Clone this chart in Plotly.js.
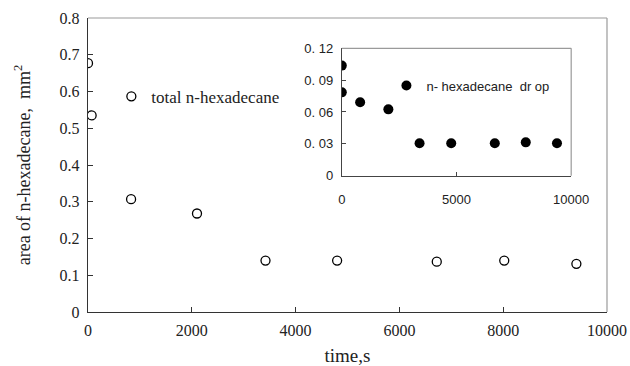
<!DOCTYPE html>
<html>
<head>
<meta charset="utf-8">
<script src="https://cdn.plot.ly/plotly-3.0.1.min.js"></script>
<style>html,body{margin:0;padding:0;background:#fff;}#chart{width:630px;height:366px;}</style>
</head>
<body>
<div id="chart"></div>
<script>
// Main series: total n-hexadecane (open circles)
var totalTime = [0, 70, 830, 2100, 3420, 4800, 6720, 8020, 9410];
var totalArea = [0.677, 0.535, 0.307, 0.268, 0.140, 0.140, 0.137, 0.140, 0.131];
// Inset series: n-hexadecane drop (filled circles)
var dropTime = [0, 0, 800, 2030, 3390, 4770, 6670, 8020, 9380];
var dropArea = [0.1037, 0.0785, 0.0691, 0.0625, 0.0305, 0.0305, 0.0305, 0.0314, 0.0305];
// Tick labels
var mainXTicks = [0, 2000, 4000, 6000, 8000, 10000];
var mainYTicks = [0, 0.1, 0.2, 0.3, 0.4, 0.5, 0.6, 0.7, 0.8];
var mainYText = ['0', '0.1', '0.2', '0.3', '0.4', '0.5', '0.6', '0.7', '0.8'];
var insetXTicks = [0, 5000, 10000];
var insetYTicks = [0, 0.03, 0.06, 0.09, 0.12];
var insetYText = ['0', '0. 03', '0. 06', '0. 09', '0. 12'];

var serif = 'Liberation Serif, Times New Roman, serif';
var sans = 'Liberation Sans, Arial, sans-serif';

var traces = [
  {
    x: totalTime, y: totalArea, type: 'scatter', mode: 'markers',
    name: 'total n-hexadecane', xaxis: 'x', yaxis: 'y', legend: 'legend',
    marker: {symbol: 'circle-open', size: 9, color: '#000', line: {width: 1.3, color: '#000'}}
  },
  {
    x: dropTime, y: dropArea, type: 'scatter', mode: 'markers',
    name: 'n- hexadecane  dr op', xaxis: 'x2', yaxis: 'y2', legend: 'legend2',
    marker: {symbol: 'circle', size: 10, color: '#000'}
  }
];

var frameColor = '#9a9a9a';
var layout = {
  width: 630, height: 366,
  margin: {l: 88, r: 23, t: 18, b: 54},
  paper_bgcolor: '#fff', plot_bgcolor: 'rgba(0,0,0,0)',
  showlegend: true,
  xaxis: {
    domain: [0, 1], range: [0, 10000], tickvals: mainXTicks, ticktext: mainXTicks.map(String),
    showgrid: false, zeroline: false, showline: true, linecolor: '#333', linewidth: 1.2,
    ticks: 'inside', ticklen: 5, tickcolor: '#333', ticklabelstandoff: 4,
    tickfont: {family: serif, size: 16, color: '#222'},
    title: {text: 'time,s', font: {family: serif, size: 19, color: '#222'}, standoff: 10},
    anchor: 'y'
  },
  yaxis: {
    domain: [0, 1], range: [0, 0.8], tickvals: mainYTicks, ticktext: mainYText,
    showgrid: false, zeroline: false, showline: true, linecolor: '#333', linewidth: 1.2,
    ticks: 'inside', ticklen: 5, tickcolor: '#333', ticklabelstandoff: 4,
    tickfont: {family: serif, size: 16, color: '#222'},
    title: {text: 'area of n-hexadecane,  mm<sup>2</sup>', font: {family: serif, size: 18, color: '#222'}, standoff: 24},
    anchor: 'x'
  },
  xaxis2: {
    domain: [0.489, 0.931], range: [0, 10000], tickvals: insetXTicks, ticktext: insetXTicks.map(String),
    showgrid: false, zeroline: false, showline: true, linecolor: '#444', linewidth: 1,
    ticks: 'inside', ticklen: 4, tickcolor: '#444', ticklabelstandoff: 12,
    tickfont: {family: sans, size: 13, color: '#222'},
    anchor: 'y2'
  },
  yaxis2: {
    domain: [0.4636, 0.897], range: [0, 0.12], tickvals: insetYTicks, ticktext: insetYText,
    showgrid: false, zeroline: false, showline: true, linecolor: '#444', linewidth: 1,
    ticks: 'inside', ticklen: 4, tickcolor: '#444', ticklabelstandoff: 5,
    tickfont: {family: sans, size: 13, color: '#222'},
    anchor: 'x2'
  },
  legend: {
    x: 0.045, y: 0.732, xanchor: 'left', yanchor: 'middle',
    bgcolor: 'rgba(0,0,0,0)', borderwidth: 0,
    font: {family: serif, size: 17, color: '#222'}
  },
  legend2: {
    x: 0.575, y: 0.77, xanchor: 'left', yanchor: 'middle',
    bgcolor: '#fff', borderwidth: 0,
    font: {family: sans, size: 13, color: '#222'}
  },
  shapes: [
    {type: 'line', xref: 'x domain', yref: 'y domain', x0: 0, x1: 1, y0: 1, y1: 1, line: {color: frameColor, width: 1.2}},
    {type: 'line', xref: 'x domain', yref: 'y domain', x0: 1, x1: 1, y0: 0, y1: 1, line: {color: frameColor, width: 1.2}},
    {type: 'line', xref: 'x2 domain', yref: 'y2 domain', x0: 0, x1: 1, y0: 1, y1: 1, line: {color: frameColor, width: 1.2}},
    {type: 'line', xref: 'x2 domain', yref: 'y2 domain', x0: 1, x1: 1, y0: 0, y1: 1, line: {color: frameColor, width: 1.2}}
  ]
};

Plotly.newPlot('chart', traces, layout, {displayModeBar: false, staticPlot: true});
</script>
</body>
</html>
